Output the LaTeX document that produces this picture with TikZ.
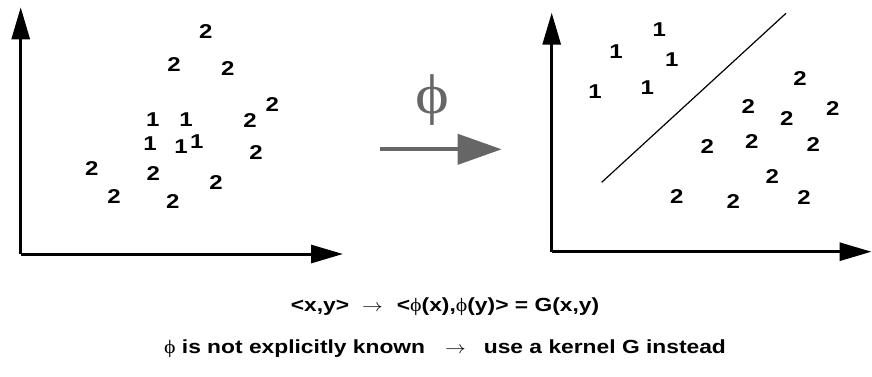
\documentclass[tikz,border=0pt]{standalone}
\usepackage{fontspec}
\setmainfont{Liberation Sans}[FakeStretch=1.2]
\newfontfamily\phifont{Liberation Serif}[FakeStretch=1.15]
\usetikzlibrary{arrows.meta}
\definecolor{arrowgray}{RGB}{102,102,102}
\tikzset{
  pt/.style={inner sep=0pt,font=\fontsize{20}{20}\selectfont\bfseries},
  axis/.style={line width=3pt,-{Triangle[length=32pt,width=18pt]}},
  caption/.style={inner sep=0pt,anchor=base,font=\fontsize{19}{19}\selectfont\bfseries},
}
\newcommand{\myphi}{{\phifont\mdseries\char"03D5}}
\newcommand{\myarrow}{\scalebox{1.2}[1]{$\rightarrow$}}
\begin{document}
\begin{tikzpicture}[x=1pt,y=-1pt]
\useasboundingbox (0,0) rectangle (872,376);
% left axes
\coordinate (lo) at (20.7,254);
\coordinate (ly) at (20.7,7.3);
\coordinate (lx) at (343,254);
\draw[axis] (lo) -- (ly);
\draw[axis] (lo) -- (lx);
% right axes
\coordinate (ro) at (551.7,251.7);
\coordinate (ry) at (551.7,12.7);
\coordinate (rx) at (871.5,251.7);
\draw[axis] (ro) -- (ry);
\draw[axis] (ro) -- (rx);
% separating line
\coordinate (s1) at (601.7,182.3);
\coordinate (s2) at (786,13.3);
\draw[line width=1.2pt] (s1) -- (s2);
% left points
\node[pt] (a1) at (205.7,31.7) {2};
\node[pt] (a2) at (174,65) {2};
\node[pt] (a3) at (227.7,68.3) {2};
\node[pt] (a4) at (272.3,105) {2};
\node[pt] (a5) at (250,120.7) {2};
\node[pt] (a6) at (152.7,119.3) {1};
\node[pt] (a7) at (186,120) {1};
\node[pt] (a8) at (150,144) {1};
\node[pt] (a9) at (181,146.7) {1};
\node[pt] (a10) at (196.7,141.7) {1};
\node[pt] (a11) at (256,152.3) {2};
\node[pt] (a12) at (91.7,168.3) {2};
\node[pt] (a13) at (153.3,173.3) {2};
\node[pt] (a14) at (216,182.7) {2};
\node[pt] (a15) at (114,196.7) {2};
\node[pt] (a16) at (172.7,201.7) {2};
% right points
\node[pt] (b1) at (659.3,29.3) {1};
\node[pt] (b2) at (616,51.7) {1};
\node[pt] (b3) at (671.7,59.3) {1};
\node[pt] (b4) at (595,91.7) {1};
\node[pt] (b5) at (647.3,87.3) {1};
\node[pt] (b6) at (800,78.3) {2};
\node[pt] (b7) at (748.3,106.7) {2};
\node[pt] (b8) at (832.7,108.3) {2};
\node[pt] (b9) at (786.7,118.3) {2};
\node[pt] (b10) at (707.3,146.7) {2};
\node[pt] (b11) at (751.7,141.7) {2};
\node[pt] (b12) at (813.3,145) {2};
\node[pt] (b13) at (772.3,176.7) {2};
\node[pt] (b14) at (676.7,196.7) {2};
\node[pt] (b15) at (733.3,201.7) {2};
\node[pt] (b16) at (804,197.7) {2};
% mapping arrow
\coordinate (m1) at (380,149.3);
\coordinate (m2) at (501.7,149.3);
\draw[line width=4pt,arrowgray,-{Triangle[length=44pt,width=30pt]}] (m1) -- (m2);
\node[inner sep=0pt,text=arrowgray,font=\fontsize{56}{56}\phifont] (phi) at (432.7,100) {\char"03D5};
% captions
\node[caption] (c1) at (445,311.5) {<x,y>\hspace{13pt}\myarrow\hspace{14pt}<\myphi(x),\myphi(y)> = G(x,y)};
\node[caption] (c2) at (445,353) {\myphi{} is not explicitly known\hspace{20pt}\myarrow\hspace{18pt}use a kernel G instead};
\end{tikzpicture}
\end{document}
